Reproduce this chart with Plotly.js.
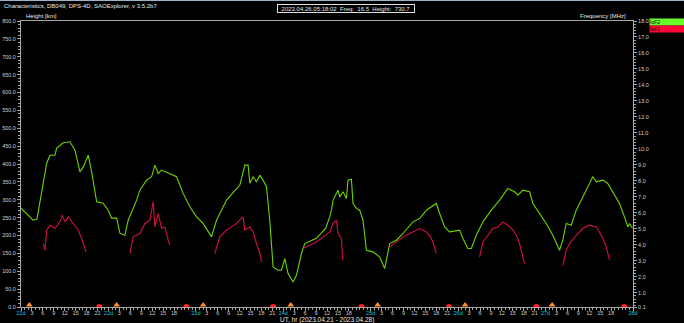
<!DOCTYPE html>
<html>
<head>
<meta charset="utf-8">
<script src="https://cdn.plot.ly/plotly-3.0.1.min.js"></script>
<style>
  html, body { margin: 0; padding: 0; background: #000; }
  #chart { width: 684px; height: 323px; }
</style>
</head>
<body>
<div id="chart"></div>
<script>
// Time axis: hours since 2023-04-21 00:00 UT
const foF2Hours = [0, 1.37, 3.29, 4.39, 6.12, 7.05, 7.95, 9.33, 9.79, 11.6, 13.44, 14.81, 16.18, 17.09, 18.46, 19.39, 20.76, 22.57, 23.94,
  24.88, 26.25, 27.15, 28.52, 29.43, 31.73, 32.64, 34.48, 35.85, 36.75, 37.66, 38.59, 41.77, 42.7, 44.51, 46.35, 48.19, 50.0, 52.3, 53.67, 56.42,
  60.07, 61.44, 62.34, 62.81, 63.71, 64.65, 65.55, 66.46, 67.39, 68.29, 69.2, 70.57, 71.5, 72.41, 73.31, 74.68, 75.62, 76.99, 77.89,
  81.1, 83.65, 84.75, 85.22, 85.66, 87.03, 87.49, 88.4, 89.33, 89.77, 90.7, 91.14, 92.07, 92.98, 93.88, 94.82, 96.63, 98.46, 99.84,
  101.21, 103.05, 104.86, 107.6, 109.43, 111.27, 114.01, 114.92, 116.29, 117.66, 120.41, 121.31, 122.68, 123.62, 124.99, 126.8, 129.1,
  131.38, 133.65, 135.49, 136.4, 137.77, 139.61, 140.51, 142.35, 144.19, 145.99, 147.83, 148.74, 149.67, 151.04, 152.41, 154.22, 155.6,
  156.97, 157.9, 159.71, 161.08, 162.45, 164.29, 165.66, 166.57, 167.03, 167.86];
const foF2Values = [6.28, 5.97, 5.53, 5.6, 8.04, 9.1, 9.6, 9.6, 10.04, 10.38, 10.44, 9.92, 8.56, 8.87, 9.6, 8.56, 6.68, 6.6, 6.16,
  5.66, 5.66, 4.72, 4.59, 5.53, 6.79, 7.41, 8.04, 8.25, 8.98, 8.46, 8.67, 8.35, 8.25, 7.21, 6.37, 5.74, 5.33, 4.49, 5.53, 6.79,
  7.73, 8.98, 8.98, 7.85, 8.25, 7.93, 8.35, 8.04, 7.62, 5.53, 2.61, 2.4, 2.4, 3.13, 2.19, 1.67, 2.09, 3.45, 4.07,
  4.4, 5.03, 5.74, 6.16, 6.79, 7.41, 6.99, 7.31, 6.89, 8.04, 8.1, 6.58, 6.27, 6.16, 5.53, 3.65, 3.55, 3.23, 2.51,
  4.07, 4.28, 4.7, 5.43, 5.64, 6.16, 6.58, 5.95, 5.11, 4.8, 4.91, 4.39, 3.76, 3.76, 4.59, 5.43, 6.16,
  6.79, 7.52, 7.31, 7.1, 7.41, 7.31, 6.58, 5.95, 5.33, 4.59, 3.65, 4.28, 5.33, 5.22, 6.16, 6.99, 7.62,
  8.25, 7.93, 8.04, 7.83, 7.31, 6.58, 5.74, 5.11, 5.33, 5.03];

// foF1 is only present in daytime; null separates the daily segments
const foF1Hours = [6.12, 6.58, 7.05, 7.95, 9.33, 10.7, 11.33, 12.07, 12.97, 14.34, 15.72, 16.65, 17.55, 17.83, null,
  29.9, 30.8, 32.64, 34.01, 35.38, 36.29, 36.75, 37.66, 38.59, 39.5, 40.4, 40.87, null,
  53.21, 54.58, 56.42, 59.16, 60.97, 61.44, 62.81, 63.71, 64.65, 65.55, 66.02, null,
  77.43, 79.26, 81.1, 82.91, 84.75, 85.66, 86.59, 87.03, 87.96, 88.32, null,
  101.21, 103.05, 104.86, 106.69, 108.53, 109.43, 111.27, 112.18, 113.08, 114.01, null,
  125.89, 126.8, 128.17, 129.54, 130.91, 132.28, 133.65, 135.02, 135.96, 136.86, 137.77, 138.23, null,
  148.74, 149.67, 150.58, 152.41, 154.22, 156.06, 157.9, 158.81, 159.71, 160.65, 161.55];
const foF1Values = [4.07, 3.65, 4.91, 5.22, 5.03, 5.43, 5.85, 5.43, 5.74, 5.33, 4.91, 4.39, 3.76, 3.55, null,
  3.45, 4.49, 4.7, 5.33, 5.53, 6.68, 5.11, 5.95, 5.03, 5.11, 4.28, 3.97, null,
  3.45, 4.49, 4.91, 5.33, 5.74, 4.91, 5.11, 4.8, 4.07, 3.45, 2.92, null,
  3.76, 3.97, 4.17, 4.49, 4.8, 5.33, 5.53, 4.7, 4.39, 3.03, null,
  3.86, 4.17, 4.49, 4.7, 4.91, 5.01, 4.8, 4.59, 4.17, 3.45, null,
  3.23, 4.17, 4.59, 5.01, 5.11, 5.43, 5.22, 4.91, 4.59, 4.07, 3.23, 2.82, null,
  2.71, 3.65, 4.07, 4.59, 5.01, 5.22, 5.11, 4.8, 4.39, 3.86, 3.03];

// Day/night markers on the time axis
const sunriseHours = [2.3, 26.25, 50.0, 74.05, 97.9, 121.9, 145.8];
const sunsetHours = [21.5, 45.4, 69.2, 93.5, 117.5, 141.5, 165.6];

const dayLabels = ['21d', '22d', '23d', '24d', '25d', '26d', '27d', '28d'];
const hiddenHourTicks = [45, 93, 165];
const freqTickVals = [0.1, 1, 2, 3, 4, 5, 6, 7, 8, 9, 10, 11, 12, 13, 14, 15, 16, 17, 18];

// plot area in pixels
const L = 21, T = 21, W = 612, H = 286;
const px = x => (x - L) / W;
const py = y => (T + H - y) / H;

const tickColor = '#a8a8a8';
const textColor = '#d0d0d0';
const fontFamily = 'Liberation Sans, Arial, sans-serif';

const xTickVals = [], xTickText = [];
for (let t = 0; t <= 168; t += 3) {
  if (hiddenHourTicks.includes(t)) continue;
  xTickVals.push(t);
  const h = t % 24;
  xTickText.push(h === 0 ? '<span style="color:#10c8d8">' + dayLabels[t / 24] + '</span>' : String(h));
}

const traces = [
  // empty trace that keeps the height (km) axis attached to the plot
  { x: [], y: [], yaxis: 'y', type: 'scatter', mode: 'lines', hoverinfo: 'skip', showlegend: false },
  {
    x: foF2Hours, y: foF2Values, yaxis: 'y2', type: 'scatter', mode: 'lines',
    line: { color: '#6cd400', width: 1.1 }, name: 'foF2', connectgaps: false, hoverinfo: 'skip'
  },
  {
    x: foF1Hours, y: foF1Values, yaxis: 'y2', type: 'scatter', mode: 'lines',
    line: { color: '#d21040', width: 1.1 }, name: 'foF1', connectgaps: false, hoverinfo: 'skip'
  },
  {
    x: sunsetHours, y: sunsetHours.map(() => 0.1), yaxis: 'y2', type: 'scatter', mode: 'markers',
    marker: { symbol: 'circle', size: 6, color: '#ff2020' }, cliponaxis: true, hoverinfo: 'skip'
  },
  {
    x: sunriseHours, y: sunriseHours.map(() => 0.22), yaxis: 'y2', type: 'scatter', mode: 'markers',
    marker: { symbol: 'triangle-up', size: 6, color: '#ff9020' }, cliponaxis: false, hoverinfo: 'skip'
  }
];

const tickFont = { family: fontFamily, size: 5.5, color: textColor };
const labelFont = { family: fontFamily, size: 6, color: '#e8e8e8' };

const layout = {
  width: 684, height: 323,
  margin: { l: L, r: 684 - L - W, t: T, b: 323 - T - H, pad: 0 },
  paper_bgcolor: '#000', plot_bgcolor: '#000',
  showlegend: false,
  xaxis: {
    range: [0, 168], showgrid: false, zeroline: false,
    showline: true, linecolor: tickColor, linewidth: 1, mirror: true,
    ticks: 'outside', ticklen: 3, tickcolor: tickColor,
    tickmode: 'array', tickvals: xTickVals, ticktext: xTickText,
    tickangle: 0, tickfont: tickFont, ticklabeloverflow: 'allow', automargin: false,
    ticklabelstandoff: -3,
    minor: { tick0: 0, dtick: 1, ticks: 'outside', ticklen: 2, tickcolor: tickColor },
    fixedrange: true
  },
  yaxis: {
    range: [0, 800], showgrid: false, zeroline: false,
    showline: true, linecolor: tickColor, linewidth: 1,
    ticks: 'outside', ticklen: 3, tickcolor: tickColor,
    tickmode: 'linear', tick0: 0, dtick: 50, tickformat: '.1f', tickfont: tickFont,
    ticklabeloverflow: 'allow', automargin: false,
    minor: { tick0: 0, dtick: 10, ticks: 'outside', ticklen: 2, tickcolor: tickColor },
    fixedrange: true
  },
  yaxis2: {
    overlaying: 'y', side: 'right', range: [0.1, 18], showgrid: false, zeroline: false,
    showline: true, linecolor: tickColor, linewidth: 1,
    ticks: 'outside', ticklen: 3, tickcolor: tickColor,
    tickmode: 'array', tickvals: freqTickVals, ticktext: freqTickVals.map(v => v.toFixed(1)),
    tickfont: tickFont, ticklabeloverflow: 'allow', automargin: false,
    minor: { tick0: 0, dtick: 0.2, ticks: 'outside', ticklen: 2, tickcolor: tickColor },
    fixedrange: true
  },
  shapes: [
    { type: 'line', xref: 'paper', yref: 'paper', x0: px(0), x1: px(684), y0: py(0.5), y1: py(0.5),
      line: { color: '#9db4c8', width: 1 } }
  ],
  annotations: [
    { xref: 'paper', yref: 'paper', x: px(2), y: py(6), xanchor: 'left', yanchor: 'middle', showarrow: false,
      text: 'Characteristics, DB049, DPS-4D, SAOExplorer, v 3.5.2b7', font: labelFont },
    { xref: 'paper', yref: 'paper', x: px(345.5), y: py(8), xanchor: 'center', yanchor: 'middle', showarrow: false,
      text: '2023.04.26.05:18:02  Freq:  16.5  Height:  730.7', font: labelFont,
      bordercolor: '#e0e0e0', borderwidth: 1, borderpad: 0, width: 136, height: 7 },
    { xref: 'paper', yref: 'paper', x: px(24), y: py(16.5), xanchor: 'left', yanchor: 'middle', showarrow: false,
      text: 'Height [km]', font: labelFont },
    { xref: 'paper', yref: 'paper', x: px(628), y: py(16.5), xanchor: 'right', yanchor: 'middle', showarrow: false,
      text: 'Frequency [MHz]', font: labelFont },
    { xref: 'paper', yref: 'paper', x: px(327), y: py(319.8), xanchor: 'center', yanchor: 'middle', showarrow: false,
      text: 'UT, hr (2023.04.21 - 2023.04.28)', font: { family: fontFamily, size: 6.5, color: '#e8e8e8' } },
    { xref: 'paper', yref: 'paper', x: px(649), y: py(22.2), xanchor: 'left', yanchor: 'middle', showarrow: false,
      text: 'foF2', align: 'left', font: { family: fontFamily, size: 5, color: '#000' },
      bgcolor: '#66ff2a', borderpad: 0, width: 35, height: 5.5 },
    { xref: 'paper', yref: 'paper', x: px(649), y: py(28.8), xanchor: 'left', yanchor: 'middle', showarrow: false,
      text: 'foF1', align: 'left', font: { family: fontFamily, size: 5, color: '#000' },
      bgcolor: '#ff0838', borderpad: 0, width: 35, height: 5.5 }
  ]
};

Plotly.newPlot('chart', traces, layout, { displayModeBar: false, staticPlot: true });
</script>
</body>
</html>
